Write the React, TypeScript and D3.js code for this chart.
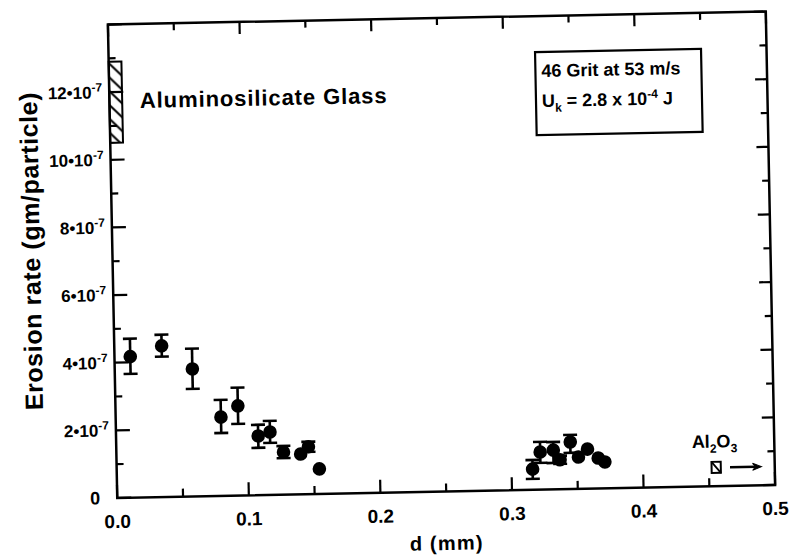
import { useEffect, useRef } from 'react'
import * as d3 from 'd3'

// particle diameter d (mm) and erosion rate (units of 1e-7 gm/particle)
const diameters = [0.012, 0.036, 0.059, 0.08, 0.093, 0.108, 0.117, 0.127, 0.14, 0.146, 0.154, 0.316, 0.322, 0.332, 0.337, 0.345, 0.351, 0.358, 0.366, 0.371]
const rates = [4.17, 4.47, 3.77, 2.33, 2.65, 1.75, 1.86, 1.26, 1.19, 1.4, 0.74, 0.61, 1.11, 1.16, 0.87, 1.39, 0.94, 1.17, 0.9, 0.78]
const rateHi = [4.7, 4.8, 4.37, 2.84, 3.19, 2.08, 2.19, 1.44, 1.19, 1.55, 0.74, 0.88, 1.41, 1.4, 0.99, 1.6, 0.94, 1.17, 0.9, 0.78]
const rateLo = [3.66, 4.15, 3.18, 1.86, 2.12, 1.4, 1.54, 1.08, 1.19, 1.25, 0.74, 0.32, 0.79, 0.78, 0.75, 1.07, 0.94, 1.17, 0.9, 0.78]

// reference bands
const glassD = [0, 0.0097]
const glassRate = [10.5, 12.9]
const aluminaD = [0.452, 0.459]
const aluminaRate = [0.39, 0.72]
const aluminaArrowD = [0.466, 0.49]
const aluminaArrowRate = 0.55

const xTicks = [0, 0.1, 0.2, 0.3, 0.4, 0.5]
const xTickLabels = ['0.0', '0.1', '0.2', '0.3', '0.4', '0.5']
const xMinor = [0.05, 0.15, 0.25, 0.35, 0.45]
const yTicks = [0, 2, 4, 6, 8, 10, 12, 14]
const yTickLabels = ['0', '2', '4', '6', '8', '10', '12', '']
const yMinor = [1, 3, 5, 7, 9, 11, 13]

const FONT = '"Liberation Sans", Arial, sans-serif'

export default function App() {
  const svgRef = useRef<SVGSVGElement>(null)

  useEffect(() => {
    const svg = d3.select(svgRef.current)
    svg.selectAll('*').remove()

    const left = 112.5
    const right = 770.5
    const top = 18
    const bottom = 491.5

    const x = d3.scaleLinear().domain([0, 0.5]).range([left, right])
    const y = d3.scaleLinear().domain([0, 14]).range([bottom, top])

    const defs = svg.append('defs')
    const pat = defs
      .append('pattern')
      .attr('id', 'hatch')
      .attr('patternUnits', 'userSpaceOnUse')
      .attr('width', 14)
      .attr('height', 14)
    pat
      .append('path')
      .attr('d', 'M-2,-2 L16,16 M-2,12 L2,16 M12,-2 L16,2')
      .attr('stroke', '#000')
      .attr('stroke-width', 2)

    // the scanned figure is slightly rotated
    const g = svg
      .append('g')
      .attr('transform', 'rotate(-1.13, 441.5, 254)')
      .attr('font-family', FONT)
      .attr('font-weight', 'bold')

    // frame
    g.append('rect')
      .attr('x', left)
      .attr('y', top)
      .attr('width', right - left)
      .attr('height', bottom - top)
      .attr('fill', 'none')
      .attr('stroke', '#000')
      .attr('stroke-width', 2.5)

    const tickLines = (
      vals: number[],
      pos: (v: number) => [number, number, number, number]
    ) => {
      g.append('g')
        .selectAll('line')
        .data(vals)
        .join('line')
        .attr('x1', (d) => pos(d)[0])
        .attr('y1', (d) => pos(d)[1])
        .attr('x2', (d) => pos(d)[2])
        .attr('y2', (d) => pos(d)[3])
        .attr('stroke', '#000')
        .attr('stroke-width', 2.2)
    }

    tickLines(yTicks, (v) => [left, y(v), left + 14, y(v)])
    tickLines(yMinor, (v) => [left, y(v), left + 7, y(v)])
    tickLines(yTicks, (v) => [right, y(v), right - 12, y(v)])
    tickLines(yMinor, (v) => [right, y(v), right - 7, y(v)])
    tickLines(xTicks, (v) => [x(v), bottom, x(v), bottom - 13])
    tickLines(xMinor, (v) => [x(v), bottom, x(v), bottom - 8])
    tickLines(xTicks, (v) => [x(v), top, x(v), top + 12])
    tickLines(xMinor, (v) => [x(v), top, x(v), top + 7])

    // x tick labels
    g.append('g')
      .selectAll('text')
      .data(xTicks)
      .join('text')
      .attr('x', (d) => x(d))
      .attr('y', bottom + 30)
      .attr('text-anchor', 'middle')
      .attr('font-size', 19)
      .text((d, i) => xTickLabels[i])

    // y tick labels with 10^-7
    yTicks.forEach((v, i) => {
      const lab = yTickLabels[i]
      if (!lab) return
      if (v === 0) {
        g.append('text')
          .attr('x', left - 17)
          .attr('y', y(v) + 6)
          .attr('text-anchor', 'end')
          .attr('font-size', 18)
          .text('0')
        return
      }
      const t = g
        .append('text')
        .attr('x', left - 7)
        .attr('y', y(v) + 6)
        .attr('text-anchor', 'end')
        .attr('font-size', 17)
      t.append('tspan').text(`${lab}\u202210`)
      t.append('tspan').attr('dy', -7).attr('font-size', 12).text('-7')
    })

    // axis titles
    g.append('text')
      .attr('x', 441)
      .attr('y', 550)
      .attr('text-anchor', 'middle')
      .attr('font-size', 20)
      .attr('letter-spacing', 1.2)
      .text('d (mm)')

    g.append('text')
      .attr('transform', 'translate(40, 243) rotate(-90)')
      .attr('text-anchor', 'middle')
      .attr('font-size', 25)
      .attr('letter-spacing', 0.6)
      .text('Erosion rate (gm/particle)')

    // aluminosilicate glass band
    g.append('rect')
      .attr('x', x(glassD[0]))
      .attr('y', y(glassRate[1]))
      .attr('width', x(glassD[1]) - x(glassD[0]))
      .attr('height', y(glassRate[0]) - y(glassRate[1]))
      .attr('fill', 'url(#hatch)')
      .attr('stroke', '#000')
      .attr('stroke-width', 2)

    g.append('text')
      .attr('x', 143)
      .attr('y', 102)
      .attr('font-size', 22)
      .attr('letter-spacing', 0.9)
      .text('Aluminosilicate Glass')

    // Al2O3 marker
    const ax0 = x(aluminaD[0])
    const ax1 = x(aluminaD[1])
    const ay0 = y(aluminaRate[1])
    const ay1 = y(aluminaRate[0])
    g.append('rect')
      .attr('x', ax0)
      .attr('y', ay0)
      .attr('width', ax1 - ax0)
      .attr('height', ay1 - ay0)
      .attr('fill', '#fff')
      .attr('stroke', '#000')
      .attr('stroke-width', 2)
    g.append('line')
      .attr('x1', ax0)
      .attr('y1', ay0)
      .attr('x2', ax1)
      .attr('y2', ay1)
      .attr('stroke', '#000')
      .attr('stroke-width', 1.8)
    const arY = y(aluminaArrowRate)
    const arX0 = x(aluminaArrowD[0])
    const arX1 = x(aluminaArrowD[1])
    g.append('line')
      .attr('x1', arX0)
      .attr('y1', arY)
      .attr('x2', arX1 - 6)
      .attr('y2', arY)
      .attr('stroke', '#000')
      .attr('stroke-width', 2.5)
    g.append('path')
      .attr('d', `M${arX1},${arY} L${arX1 - 9},${arY - 3.5} L${arX1 - 6},${arY} L${arX1 - 9},${arY + 3.5} Z`)
      .attr('fill', '#000')
      .attr('stroke', '#000')
      .attr('stroke-width', 1)

    const al = g.append('text').attr('x', 688).attr('y', 453).attr('font-size', 18)
    al.append('tspan').text('Al')
    al.append('tspan').attr('dy', 5).attr('font-size', 12).text('2')
    al.append('tspan').attr('dy', -5).text('O')
    al.append('tspan').attr('dy', 5).attr('font-size', 12).text('3')

    // condition box
    g.append('rect')
      .attr('x', 539)
      .attr('y', 54)
      .attr('width', 166)
      .attr('height', 83)
      .attr('fill', '#fff')
      .attr('stroke', '#000')
      .attr('stroke-width', 2.2)
    g.append('text').attr('x', 545).attr('y', 79).attr('font-size', 18).text('46 Grit at 53 m/s')
    const uk = g.append('text').attr('x', 545).attr('y', 109).attr('font-size', 18)
    uk.append('tspan').text('U')
    uk.append('tspan').attr('dy', 5).attr('font-size', 12).text('k')
    uk.append('tspan').attr('dy', -5).text(' = 2.8 x 10')
    uk.append('tspan').attr('dy', -7).attr('font-size', 12).text('-4')
    uk.append('tspan').attr('dy', 7).text(' J')

    // data
    const pts = diameters.map((d, i) => ({ d, r: rates[i], hi: rateHi[i], lo: rateLo[i] }))
    const bars = g.append('g').attr('stroke', '#000').attr('stroke-width', 2.6)
    pts
      .filter((p) => p.hi > p.lo)
      .forEach((p) => {
        const cx = x(p.d)
        bars.append('line').attr('x1', cx).attr('x2', cx).attr('y1', y(p.hi)).attr('y2', y(p.lo))
        bars.append('line').attr('x1', cx - 7).attr('x2', cx + 7).attr('y1', y(p.hi)).attr('y2', y(p.hi))
        bars.append('line').attr('x1', cx - 7).attr('x2', cx + 7).attr('y1', y(p.lo)).attr('y2', y(p.lo))
      })

    g.append('g')
      .selectAll('circle')
      .data(pts)
      .join('circle')
      .attr('cx', (p) => x(p.d))
      .attr('cy', (p) => y(p.r))
      .attr('r', 6.8)
      .attr('fill', '#000')
  }, [])

  return (
    <svg
      ref={svgRef}
      width={793}
      height={558}
      style={{ position: 'absolute', left: 0, top: 0, background: '#fff' }}
    />
  )
}
